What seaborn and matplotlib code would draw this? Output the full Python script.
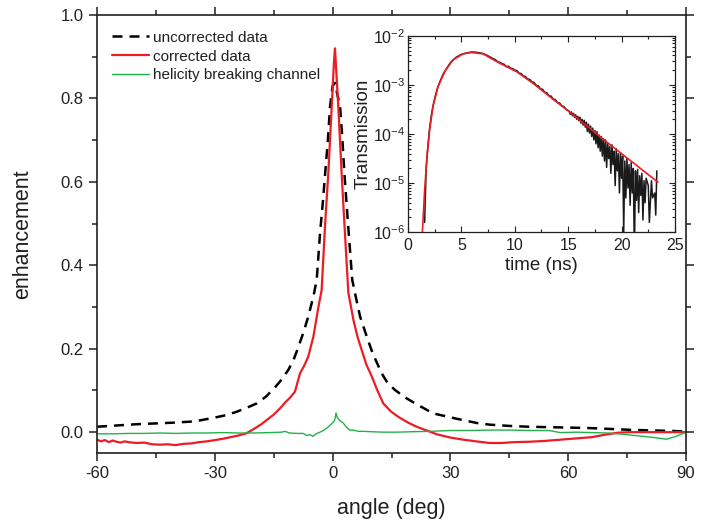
import numpy as np
import pandas as pd
import matplotlib
matplotlib.use("Agg")
import matplotlib.pyplot as plt
import seaborn as sns
from matplotlib.ticker import MultipleLocator, LogLocator, NullFormatter

# ---- main panel data ----
angle_unc = [-60, -55, -50, -45, -40, -35, -30, -27, -24.4, -21.5, -19.3, -17, -14.7, -13, -11.3,
             -10, -9, -7.5, -6.2, -4.9, -4.05, -3.2, -2.5, -1.9, -1.2, -0.66, 0, 0.6, 1.2, 1.9,
             2.5, 3.0, 4.0, 5.0, 6.0, 7.0, 8.7, 10.2, 12.5, 14, 15.9, 18.5, 21, 25.6, 31.2, 36.7,
             40, 45, 50, 55, 60, 65, 70, 76, 82, 86, 90]
enh_unc = [0.013, 0.016, 0.019, 0.021, 0.023, 0.026, 0.035, 0.041, 0.049, 0.060, 0.069, 0.085,
           0.107, 0.126, 0.149, 0.172, 0.197, 0.237, 0.277, 0.325, 0.365, 0.477, 0.55, 0.62,
           0.70, 0.78, 0.83, 0.837, 0.81, 0.78, 0.70, 0.62, 0.49, 0.365, 0.32, 0.277, 0.229,
           0.189, 0.141, 0.118, 0.101, 0.083, 0.069, 0.045, 0.033, 0.022, 0.018, 0.015, 0.013,
           0.012, 0.011, 0.010, 0.008, 0.0055, 0.004, 0.003, 0.0016]

angle_cor = [-60, -59, -58, -57, -56, -55, -54, -53, -52, -50, -48, -46, -44, -42, -40, -38, -36,
             -34, -32, -30, -28, -26, -24, -22, -20, -18, -16.8, -15, -13.4, -12, -10.8, -9.6,
             -8.3, -7.2, -6.2, -4.9, -3.6, -2.8, -1.9, -1.1, -0.23, 0.3, 0.6, 0.9, 1.45, 2.3, 3.0,
             4.0, 5.3, 6.3, 7.4, 8.6, 10.0, 11.4, 12.9, 14.8, 16.7, 19, 21.4, 24, 26.5, 30, 33.3,
             36.5, 40, 43, 46, 50, 54, 58, 62, 66, 70, 73, 76, 80, 85, 90]
enh_cor = [-0.018, -0.022, -0.019, -0.024, -0.020, -0.023, -0.025, -0.022, -0.024, -0.026, -0.025,
           -0.029, -0.030, -0.029, -0.031, -0.028, -0.027, -0.024, -0.022, -0.019, -0.016, -0.012,
           -0.008, -0.003, 0.008, 0.020, 0.029, 0.042, 0.057, 0.072, 0.083, 0.097, 0.141, 0.160,
           0.181, 0.229, 0.301, 0.34, 0.50, 0.62, 0.78, 0.88, 0.92, 0.87, 0.78, 0.62, 0.50, 0.335,
           0.269, 0.23, 0.197, 0.162, 0.133, 0.10, 0.069, 0.05, 0.037, 0.024, 0.013, 0.004,
           -0.005, -0.013, -0.018, -0.022, -0.026, -0.026, -0.024, -0.023, -0.021, -0.018,
           -0.015, -0.012, -0.005, -0.001, 0.0, 0.0, 0.0, 0.0]

angle_hel = [-60, -56, -52, -48, -44, -40, -36, -32, -28, -24, -20, -16, -13, -12.1, -11, -9,
             -7.5, -6.6, -5.8, -5.0, -4.2, -3.2, -2.2, -1.2, -0.5, 0.3, 0.6, 0.87, 1.2, 1.8, 2.7,
             3.5, 4.4, 5.3, 6.5, 7.8, 10, 13, 16.3, 20, 24.8, 30, 35, 40, 45, 50, 55, 58, 62, 66,
             70, 74, 78, 82, 85, 87.5, 90]
enh_hel = [-0.004, -0.004, -0.003, -0.003, -0.002, -0.003, -0.002, -0.002, -0.001, -0.002,
           -0.002, -0.001, 0.0, 0.002, -0.002, -0.003, -0.003, -0.008, -0.006, -0.010, -0.004,
           0.0, 0.005, 0.012, 0.018, 0.025, 0.032, 0.046, 0.035, 0.028, 0.022, 0.012, 0.005,
           0.005, 0.002, 0.002, 0.001, 0.0, 0.0, 0.001, 0.002, 0.004, 0.004, 0.005, 0.005, 0.004,
           0.004, -0.001, 0.0, -0.001, -0.002, -0.005, -0.009, -0.013, -0.017, -0.010, 0.0]

# ---- inset data: log10 of transmission ----
t_fit = [1.35, 1.56, 1.78, 2.03, 2.34, 2.81, 3.44, 4.22, 5.16, 5.94, 7.03, 8.6, 10.16, 11.72,
         13.28, 15, 17, 19, 21, 23.4]
logT_fit = [-6.0, -5.14, -4.46, -3.92, -3.44, -3.04, -2.73, -2.49, -2.37, -2.34, -2.37, -2.56,
            -2.73, -2.97, -3.24, -3.53, -3.88, -4.23, -4.57, -4.98]

t_data = [1.56, 1.7, 1.85, 2.0, 2.2, 2.4, 2.6, 2.8, 3.0, 3.3, 3.6, 4.0, 4.5, 5.0, 5.5, 6.0, 6.5,
          7.0, 7.5, 8.0,
          8.2, 8.4, 8.6, 8.8, 9.0, 9.2, 9.4, 9.6, 9.8, 10.0, 10.2, 10.4, 10.6, 10.8, 11.0, 11.2,
          11.4, 11.6, 11.8, 12.0, 12.2, 12.4, 12.6, 12.8, 13.0, 13.2, 13.4, 13.6, 13.8, 14.0,
          14.2, 14.4, 14.6, 14.8, 15.0,
          15.1, 15.2, 15.3, 15.4, 15.5, 15.6, 15.7, 15.8, 15.9, 16.0,
          16.1, 16.2, 16.3, 16.4, 16.5, 16.6, 16.7, 16.8, 16.9, 17.0,
          17.1, 17.2, 17.3, 17.4, 17.5, 17.6, 17.7, 17.8, 17.9, 18.0,
          18.1, 18.2, 18.3, 18.4, 18.5, 18.6, 18.7, 18.8, 18.9, 19.0,
          19.1, 19.2, 19.3, 19.4, 19.5, 19.6, 19.7, 19.8, 19.9, 20.0,
          20.1, 20.2, 20.3, 20.4, 20.5, 20.6, 20.7, 20.8, 20.9, 21.0,
          21.1, 21.2, 21.3, 21.4, 21.5, 21.6, 21.7, 21.8, 21.9, 22.0,
          22.1, 22.2, 22.3, 22.5, 22.6, 22.8, 22.9, 23.1, 23.2, 23.3]
logT_data = [-5.8, -4.72, -4.28, -3.93, -3.60, -3.37, -3.19, -3.04, -2.93, -2.78, -2.67, -2.54,
             -2.44, -2.38, -2.35, -2.33, -2.34, -2.36, -2.41, -2.47,
             -2.49, -2.53, -2.54, -2.57, -2.58, -2.63, -2.62, -2.66, -2.67, -2.70, -2.71, -2.76,
             -2.77, -2.82, -2.83, -2.88, -2.89, -2.94, -2.95, -3.01, -3.02, -3.08, -3.09, -3.15,
             -3.16, -3.22, -3.23, -3.29, -3.30, -3.36, -3.37, -3.43, -3.44, -3.50, -3.52,
             -3.54, -3.60, -3.55, -3.63, -3.58, -3.66, -3.61, -3.70, -3.64, -3.73,
             -3.66, -3.78, -3.70, -3.82, -3.72, -3.86, -3.76, -3.95, -3.80, -3.98,
             -3.84, -4.05, -3.88, -4.12, -3.93, -4.20, -3.95, -4.28, -4.02, -4.35,
             -4.05, -4.45, -4.10, -4.55, -4.12, -4.68, -4.18, -4.50, -4.25, -4.80,
             -4.22, -4.62, -4.35, -5.05, -4.30, -4.75, -4.40, -5.20, -4.38, -4.90,
             -4.45, -6.00, -4.55, -5.30, -4.50, -5.10, -4.62, -5.45, -4.58, -5.20,
             -4.70, -6.50, -4.75, -5.35, -4.72, -5.60, -4.85, -5.25, -4.80, -5.75,
             -4.95, -5.40, -4.90, -5.05, -5.80, -4.95, -5.30, -5.20, -5.65, -4.75]

TXT = "#231f20"
RED = "#ed1c24"
GREEN = "#22b24c"

sns.set_style("ticks")
plt.rcParams["font.family"] = ["Liberation Sans", "DejaVu Sans"]
plt.rcParams["axes.unicode_minus"] = False
plt.rcParams["mathtext.fontset"] = "custom"
plt.rcParams["mathtext.rm"] = "Liberation Sans"
plt.rcParams["text.color"] = TXT
plt.rcParams["axes.labelcolor"] = TXT
plt.rcParams["xtick.color"] = TXT
plt.rcParams["ytick.color"] = TXT
plt.rcParams["axes.edgecolor"] = TXT

fig = plt.figure(figsize=(7.16, 5.2), dpi=100)
ax = fig.add_axes([0.1355, 0.1288, 0.8226, 0.8424])

sns.lineplot(x=angle_unc, y=enh_unc, ax=ax, color="black", linewidth=1.8,
             linestyle=(0, (4, 2.8)), estimator=None, sort=False, label="uncorrected data")
sns.lineplot(x=angle_cor, y=enh_cor, ax=ax, color=RED, linewidth=1.6,
             estimator=None, sort=False, label="corrected data")
sns.lineplot(x=angle_hel, y=enh_hel, ax=ax, color=GREEN, linewidth=1.0,
             estimator=None, sort=False, label="helicity breaking channel")

ax.set_xlim(-60, 90)
ax.set_ylim(-0.05, 1.0)
ax.set_xticks([-60, -30, 0, 30, 60, 90])
ax.set_yticks([0.0, 0.2, 0.4, 0.6, 0.8, 1.0])
ax.set_yticklabels(["0.0", "0.2", "0.4", "0.6", "0.8", "1.0"])
ax.xaxis.set_minor_locator(MultipleLocator(15))
ax.yaxis.set_minor_locator(MultipleLocator(0.1))
ax.tick_params(which="both", direction="out", top=True, right=True, width=1.1, labelsize=12)
ax.tick_params(which="major", length=6)
ax.tick_params(which="minor", length=3.5)
for s in ax.spines.values():
    s.set_linewidth(1.2)
ax.set_xlabel("angle (deg)", fontsize=15.5, labelpad=12)
ax.set_ylabel("enhancement", fontsize=15.5, labelpad=20)

leg = ax.legend(loc="upper left", bbox_to_anchor=(0.01, 0.985), frameon=False, fontsize=11,
                handlelength=2.4, handletextpad=0.3, labelspacing=0.32, borderaxespad=0.2)

# ---- inset ----
axi = fig.add_axes([0.5698, 0.5533, 0.3729, 0.378])
trans_data = 10 ** np.array(logT_data)
trans_fit = 10 ** np.array(logT_fit)
inset_df = pd.DataFrame({"t": t_data, "T": trans_data})
sns.lineplot(data=inset_df, x="t", y="T", ax=axi, color="#1a1a1a", linewidth=1.1,
             estimator=None, sort=False)
sns.lineplot(x=t_fit, y=trans_fit, ax=axi, color=RED, linewidth=1.2, estimator=None, sort=False)
axi.set_yscale("log")
axi.set_xlim(0, 25)
axi.set_ylim(1e-6, 1e-2)
axi.set_xticks([0, 5, 10, 15, 20, 25])
axi.xaxis.set_minor_locator(MultipleLocator(2.5))
axi.set_yticks([1e-6, 1e-5, 1e-4, 1e-3, 1e-2],
               [r"$\mathregular{10^{-6}}$", r"$\mathregular{10^{-5}}$", r"$\mathregular{10^{-4}}$",
                r"$\mathregular{10^{-3}}$", r"$\mathregular{10^{-2}}$"])
axi.yaxis.set_minor_locator(LogLocator(base=10, subs=np.arange(2, 10) * 1.0, numticks=20))
axi.yaxis.set_minor_formatter(NullFormatter())
axi.tick_params(which="both", direction="in", top=True, right=True, width=0.8, labelsize=11.5)
axi.tick_params(axis="x", pad=4)
axi.tick_params(axis="y", pad=2)
axi.tick_params(which="major", length=4)
axi.tick_params(which="minor", length=2)
for s in axi.spines.values():
    s.set_linewidth(0.9)
axi.set_xlabel("time (ns)", fontsize=13.5, labelpad=3)
axi.set_ylabel("Transmission", fontsize=13.5, labelpad=1)
if axi.get_legend() is not None:
    axi.get_legend().remove()

fig.savefig("out.png", dpi=100)
